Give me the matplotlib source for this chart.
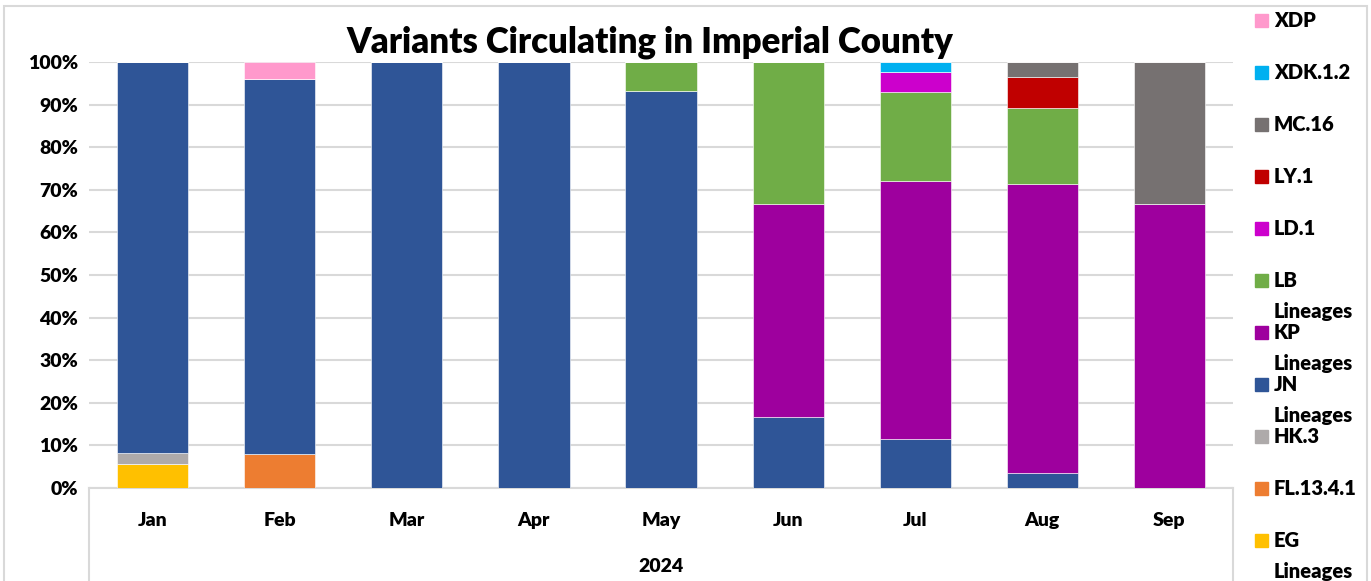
import matplotlib
matplotlib.use("Agg")
import matplotlib.pyplot as plt
from matplotlib.patches import Rectangle
from matplotlib.lines import Line2D
import numpy as np

months = ["Jan", "Feb", "Mar", "Apr", "May", "Jun", "Jul", "Aug", "Sep"]
year = "2024"

# share of sequences per month (%), bottom to top
eg = [5.6, 0, 0, 0, 0, 0, 0, 0, 0]
fl_13_4_1 = [0, 8.0, 0, 0, 0, 0, 0, 0, 0]
hk_3 = [2.7, 0, 0, 0, 0, 0, 0, 0, 0]
jn = [91.7, 88.0, 100, 100, 93.3, 16.7, 11.6, 3.6, 0]
kp = [0, 0, 0, 0, 0, 50.0, 60.5, 67.8, 66.7]
lb = [0, 0, 0, 0, 6.7, 33.3, 20.9, 17.9, 0]
ld_1 = [0, 0, 0, 0, 0, 0, 4.7, 0, 0]
ly_1 = [0, 0, 0, 0, 0, 0, 0, 7.1, 0]
mc_16 = [0, 0, 0, 0, 0, 0, 0, 3.6, 33.3]
xdk_1_2 = [0, 0, 0, 0, 0, 0, 2.3, 0, 0]
xdp = [0, 4.0, 0, 0, 0, 0, 0, 0, 0]

series = [
    ("EG\nLineages", eg, "#FFC000"),
    ("FL.13.4.1", fl_13_4_1, "#ED7D31"),
    ("HK.3", hk_3, "#AEAAAA"),
    ("JN\nLineages", jn, "#2F5597"),
    ("KP\nLineages", kp, "#9E009E"),
    ("LB\nLineages", lb, "#70AD47"),
    ("LD.1", ld_1, "#CC00CC"),
    ("LY.1", ly_1, "#C00000"),
    ("MC.16", mc_16, "#767171"),
    ("XDK.1.2", xdk_1_2, "#00B0F0"),
    ("XDP", xdp, "#FF99CC"),
]

plt.rcParams["font.family"] = ["Lato", "DejaVu Sans"]
W = "heavy"

fig = plt.figure(figsize=(13.71, 5.81), dpi=100)
ax = fig.add_axes([0.065, 0.16, 0.8343, 0.7333])

x = np.arange(len(months))
bottom = np.zeros(len(months))
for name, vals, col in series:
    v = np.array(vals) / 100.0
    ax.bar(x, v, width=0.56, bottom=bottom, color=col,
           edgecolor="white", linewidth=0.4, zorder=3)
    bottom += v

ax.set_xlim(-0.5, len(months) - 0.5)
ax.set_ylim(0, 1)
ax.set_yticks(np.arange(0, 1.01, 0.1))
ax.set_yticklabels([f"{int(round(t * 100))}%" for t in np.arange(0, 1.01, 0.1)],
                   fontsize=14, fontweight=W)
ax.set_xticks(x)
ax.set_xticklabels(months, fontsize=14, fontweight=W)
ax.tick_params(axis="both", length=0)
ax.tick_params(axis="x", pad=17)
ax.tick_params(axis="y", pad=8)
ax.grid(axis="y", color="#D9D9D9", linewidth=1.5, zorder=0)
for s in ["top", "right", "left"]:
    ax.spines[s].set_visible(False)
ax.spines["bottom"].set_color("#D9D9D9")
ax.spines["bottom"].set_linewidth(1.5)

# multi-level category box
for xx in (0, 1):
    ax.add_line(Line2D([xx, xx], [0, -0.25], transform=ax.transAxes,
                       color="#D9D9D9", linewidth=1.5, clip_on=False))
ax.text(0.5, -0.185, year, transform=ax.transAxes, ha="center", va="center",
        fontsize=14, fontweight=W)

fig.text(0.474, 0.928, "Variants Circulating in Imperial County",
         ha="center", va="center", fontsize=25, fontweight=W)

# legend, top to bottom
for i, (name, vals, col) in enumerate(series[::-1]):
    ypix = 20 + i * 52
    yf = 1 - ypix / 581
    fig.patches.append(Rectangle((1255 / 1371, yf - 6.5 / 581), 13 / 1371, 13 / 581,
                                 transform=fig.transFigure, color=col))
    fig.text(1274 / 1371, yf + 9 / 581, name, ha="left", va="top",
             fontsize=14.5, fontweight=W, linespacing=1.75)

fig.patches.append(Rectangle((0.003, -0.01), 0.994, 1.0, transform=fig.transFigure,
                             fill=False, edgecolor="#D9D9D9", linewidth=1.5))

fig.savefig("out.png", dpi=100)
